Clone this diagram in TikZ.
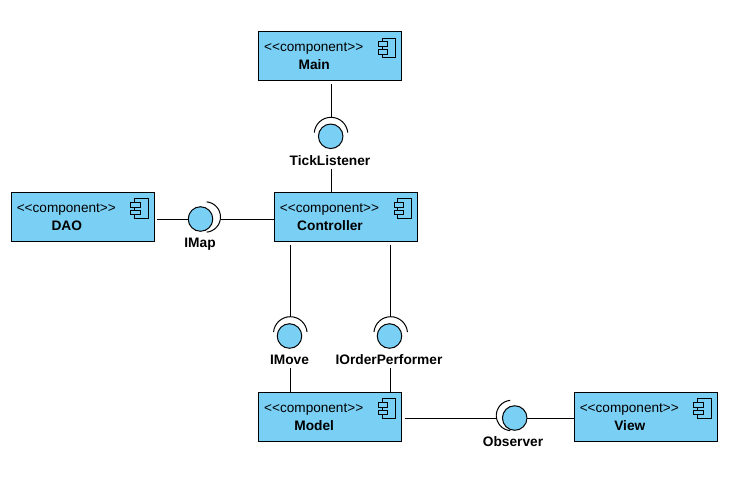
\documentclass[tikz,border=0pt]{standalone}
\usepackage{fontspec}
\setmainfont{Liberation Sans}
\usetikzlibrary{calc}
\definecolor{compblue}{HTML}{7ACFF5}
\tikzset{
  compbox/.style={draw,fill=compblue,line width=.85pt,inner sep=0pt,minimum width=107.25pt,minimum height=36.8pt},
  iconpart/.style={draw,fill=compblue,line width=.75pt},
  ball/.style={draw,circle,fill=compblue,line width=.75pt,inner sep=0pt,minimum size=18.4pt},
  wire/.style={line width=.75pt},
  ifacename/.style={font=\bfseries\fontsize{10.3}{12}\selectfont,inner sep=3pt,text height=7.5pt,text depth=0pt},
}
\begin{document}
\begin{tikzpicture}[x=.75pt,y=-.75pt]
\useasboundingbox (0,0) rectangle (735,501);
% components, given by their top left corner
\foreach \nm/\px/\py/\txt in {Main/258.7/31.7/Main,DAO/11.3/192.3/DAO,Controller/274.5/192.3/Controller,Model/258.7/392.3/Model,View/574.3/392.3/View}
{
  \draw node [compbox,anchor=north west,xshift=-.5pt,yshift=.4pt] (\nm) at (\px,\py) {};
  \draw node [anchor=center,inner sep=0pt,font=\fontsize{10.2}{12}\selectfont] (\nm Stereo) at ($ (\px,\py) + (55,16.8) $) {<{}<component>{}>};
  \draw node [anchor=center,inner sep=0pt,font=\bfseries\fontsize{10.3}{12}\selectfont] (\nm Name) at ($ (\px,\py) + (55.5,33) $) {\txt};
  \draw [iconpart] ($ (\px,\py) + (123.3,6.6) $) rectangle ($ (\px,\py) + (137,26.2) $);
  \draw [iconpart] ($ (\px,\py) + (119.6,10.2) $) rectangle ($ (\px,\py) + (129,15.2) $);
  \draw [iconpart] ($ (\px,\py) + (119.6,17.9) $) rectangle ($ (\px,\py) + (129,22.6) $);
}
% provided interfaces
\draw node [ball] (TickBall) at (330.7,136.3) {};
\draw node [ball] (IMapBall) at (200.5,219) {};
\draw node [ball] (IMoveBall) at (289.5,336) {};
\draw node [ball] (IOrderBall) at (389.5,336) {};
\draw node [ball] (ObserverBall) at (514.7,418) {};
% names of the interfaces
\draw node [ifacename] (TickName) at (330,160) {TickListener};
\draw node [ifacename] (IMapName) at (200,242.5) {IMap};
\draw node [ifacename] (IMoveName) at (289.5,359) {IMove};
\draw node [ifacename] (IOrderName) at (389,359) {IOrderPerformer};
\draw node [ifacename] (ObserverName) at (513,441) {Observer};
% sockets, each one starts at its apex
\coordinate (TickArc) at (331,117.3);
\coordinate (IMoveArc) at (290.3,316.7);
\coordinate (IOrderArc) at (390.7,316.7);
\coordinate (IMapArc) at (220.5,217);
\coordinate (ObserverArc) at (496.3,415.5);
\foreach \arcend in {TickArc,IMoveArc,IOrderArc}
{
  \draw [wire] (\arcend) arc (90:175:12.6pt);
  \draw [wire] (\arcend) arc (90:5:12.6pt);
}
\draw [wire] (IMapArc) arc (0:85:11.4pt);
\draw [wire] (IMapArc) arc (0:-85:11.4pt);
\draw [wire] (ObserverArc) arc (180:95:11.4pt);
\draw [wire] (ObserverArc) arc (180:265:11.4pt);
% connectors
\draw [wire,shorten <=2pt] (TickArc |- Main.south) -- (TickArc);
\draw [wire] (TickArc |- TickName.south) -- (TickArc |- Controller.north);
\draw [wire,shorten <=2pt] (IMapBall -| DAO.east) -- (IMapBall.west);
\draw [wire] (IMapBall -| IMapArc) -- (IMapBall -| Controller.west);
\draw [wire,shorten <=2pt] (IMoveArc |- Controller.south) -- (IMoveArc);
\draw [wire] (IMoveArc |- IMoveName.south) -- (IMoveArc |- Model.north);
\draw [wire,shorten <=2pt] (IOrderArc |- Controller.south) -- (IOrderArc);
\draw [wire] (IOrderArc |- IOrderName.south) -- (IOrderArc |- Model.north);
\draw [wire,shorten <=2pt] (ObserverBall -| Model.east) -- (ObserverBall -| ObserverArc);
\draw [wire] (ObserverBall.east) -- (ObserverBall -| View.west);
\end{tikzpicture}
\end{document}
